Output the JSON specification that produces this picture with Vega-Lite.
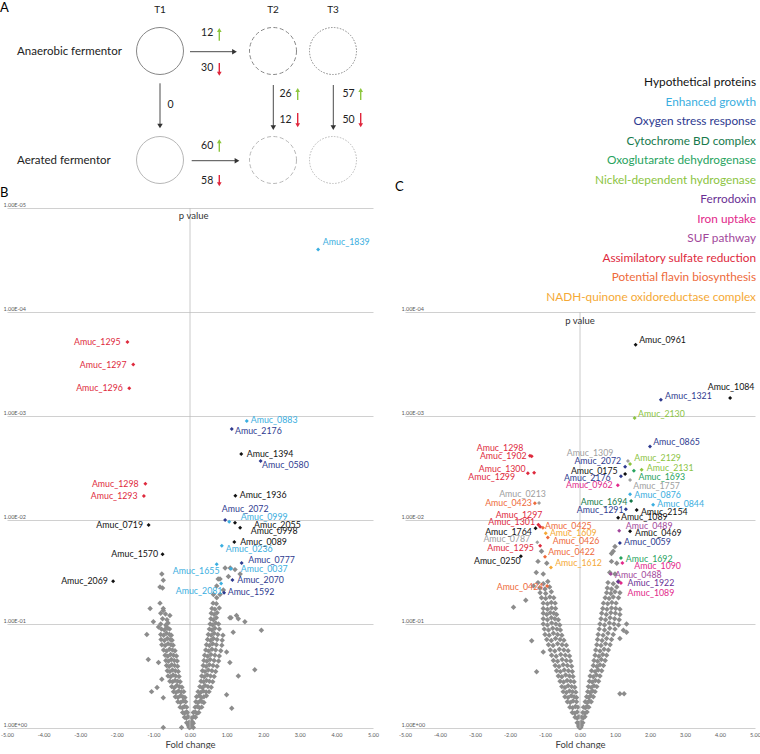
{
"$schema":"https://vega.github.io/schema/vega-lite/v6.json",
"background":"white",
"padding":0,
"config":{"view":{"stroke":null},"font":"Lato",
 "axisX":{"grid":false,"domain":false,"ticks":false,"tickSize":0,"labelFontSize":5.5,"labelColor":"#595959","labelPadding":4,"labelFlush":false,"labelOverlap":false,"labelSeparation":0,"labelBound":false,"titleFontSize":9.5,"titleFontWeight":"normal","titleColor":"#404040","titlePadding":2},
 "axisY":{"grid":true,"gridColor":"#c4c4c4","gridWidth":0.8,"domain":false,"ticks":false,"tickSize":0,"labelAlign":"left","labelPadding":4,"labelBaseline":"alphabetic","labelOffset":-2,"labelFlush":false,"labelOverlap":false,"labelFontSize":5.5,"labelColor":"#595959"}},
"datasets":{
"circles":[{"x":160,"y":51,"row":"Anaerobic","col":"T1"},{"x":273,"y":51,"row":"Anaerobic","col":"T2"},{"x":333,"y":51,"row":"Anaerobic","col":"T3"},{"x":160,"y":160,"row":"Aerated","col":"T1"},{"x":273,"y":160,"row":"Aerated","col":"T2"},{"x":333,"y":160,"row":"Aerated","col":"T3"}],
"bigArrows":[{"x":190,"y":51.7,"x2":234.5,"y2":51.7,"d":"right"},{"x":191.7,"y":160.7,"x2":237,"y2":160.7,"d":"right"},{"x":160,"y":83.3,"x2":160,"y2":126,"d":"down"},{"x":273.3,"y":85,"x2":273.3,"y2":127.7,"d":"down"},{"x":333.3,"y":85,"x2":333.3,"y2":127.7,"d":"down"}],
"counts":[{"n":"12","d":"up","x":219.3,"y":40.7,"y2":30,"ty":33},{"n":"30","d":"down","x":219.3,"y":63,"y2":73.7,"ty":68},{"n":"60","d":"up","x":219.3,"y":151.7,"y2":141.3,"ty":146},{"n":"58","d":"down","x":219.3,"y":175,"y2":184.3,"ty":181},{"n":"26","d":"up","x":297.7,"y":100,"y2":90,"ty":94},{"n":"12","d":"down","x":297.7,"y":113,"y2":125.3,"ty":120},{"n":"57","d":"up","x":360.7,"y":100,"y2":90,"ty":94},{"n":"50","d":"down","x":360.7,"y":113,"y2":125.3,"ty":120}],
"legendRows":[{"c":"Hypothetical proteins","x":756,"y":82},{"c":"Enhanced growth","x":756,"y":101.5},{"c":"Oxygen stress response","x":756,"y":121},{"c":"Cytochrome BD complex","x":756,"y":140.5},{"c":"Oxoglutarate dehydrogenase","x":756,"y":160},{"c":"Nickel-dependent hydrogenase","x":756,"y":179.5},{"c":"Ferrodoxin","x":756,"y":199},{"c":"Iron uptake","x":756,"y":218.5},{"c":"SUF pathway","x":756,"y":238},{"c":"Assimilatory sulfate reduction","x":756,"y":257.5},{"c":"Potential flavin biosynthesis","x":756,"y":277},{"c":"NADH-quinone oxidoreductase complex","x":756,"y":296.5}],
"labB":[
{"g":"Amuc_1839","c":"Enhanced growth","x":3.5,"p":2.5e-5,"lx":3.63,"lp":2.12e-5},
{"g":"Amuc_1295","c":"Assimilatory sulfate reduction","x":-1.71,"p":1.94e-4,"lx":-3.17,"lp":1.94e-4},
{"g":"Amuc_1297","c":"Assimilatory sulfate reduction","x":-1.55,"p":3.2e-4,"lx":-3.01,"lp":3.2e-4},
{"g":"Amuc_1296","c":"Assimilatory sulfate reduction","x":-1.66,"p":5.4e-4,"lx":-3.11,"lp":5.4e-4},
{"g":"Amuc_0883","c":"Enhanced growth","x":1.55,"p":1.12e-3,"lx":1.66,"lp":1.1e-3},
{"g":"Amuc_2176","c":"Oxygen stress response","x":1.14,"p":1.33e-3,"lx":1.23,"lp":1.39e-3},
{"g":"Amuc_1394","c":"Hypothetical proteins","x":1.4,"p":2.32e-3,"lx":1.55,"lp":2.3e-3},
{"g":"Amuc_0580","c":"Oxygen stress response","x":1.93,"p":2.71e-3,"lx":1.97,"lp":2.96e-3},
{"g":"Amuc_1298","c":"Assimilatory sulfate reduction","x":-1.22,"p":4.48e-3,"lx":-2.68,"lp":4.48e-3},
{"g":"Amuc_1293","c":"Assimilatory sulfate reduction","x":-1.26,"p":5.87e-3,"lx":-2.71,"lp":5.87e-3},
{"g":"Amuc_1936","c":"Hypothetical proteins","x":1.24,"p":5.83e-3,"lx":1.36,"lp":5.8e-3},
{"g":"Amuc_2072","c":"Oxygen stress response","x":0.96,"p":1.0e-2,"lx":0.87,"lp":7.83e-3},
{"g":"Amuc_0999","c":"Enhanced growth","x":1.07,"p":1.04e-2,"lx":1.39,"lp":9.29e-3},
{"g":"Amuc_2055","c":"Hypothetical proteins","x":1.23,"p":1.06e-2,"lx":1.75,"lp":1.12e-2},
{"g":"Amuc_0998","c":"Hypothetical proteins","x":1.37,"p":1.19e-2,"lx":1.66,"lp":1.28e-2},
{"g":"Amuc_0719","c":"Hypothetical proteins","x":-1.13,"p":1.12e-2,"lx":-2.56,"lp":1.12e-2},
{"g":"Amuc_0089","c":"Hypothetical proteins","x":1.21,"p":1.63e-2,"lx":1.37,"lp":1.64e-2},
{"g":"Amuc_0236","c":"Enhanced growth","x":0.87,"p":1.77e-2,"lx":0.98,"lp":1.91e-2},
{"g":"Amuc_1570","c":"Hypothetical proteins","x":-0.75,"p":2.14e-2,"lx":-2.15,"lp":2.14e-2},
{"g":"Amuc_0777","c":"Oxygen stress response","x":1.41,"p":2.59e-2,"lx":1.59,"lp":2.45e-2},
{"g":"Amuc_1655","c":"Enhanced growth","x":0.73,"p":2.67e-2,"lx":-0.47,"lp":3.09e-2},
{"g":"Amuc_0037","c":"Enhanced growth","x":1.12,"p":2.94e-2,"lx":1.39,"lp":2.98e-2},
{"g":"Amuc_2069","c":"Hypothetical proteins","x":-2.1,"p":3.89e-2,"lx":-3.52,"lp":3.89e-2},
{"g":"Amuc_2070","c":"Oxygen stress response","x":1.16,"p":3.78e-2,"lx":1.29,"lp":3.78e-2},
{"g":"Amuc_2081","c":"Enhanced growth","x":0.85,"p":4.07e-2,"lx":-0.39,"lp":4.79e-2},
{"g":"Amuc_1592","c":"Oxygen stress response","x":0.93,"p":5.01e-2,"lx":1.03,"lp":4.9e-2}],
"labC":[
{"g":"Amuc_0961","c":"Hypothetical proteins","x":1.59,"p":2.06e-4,"lx":1.69,"lp":1.85e-4},
{"g":"Amuc_1084","c":"Hypothetical proteins","x":4.29,"p":6.72e-4,"lx":3.65,"lp":5.26e-4},
{"g":"Amuc_1321","c":"Oxygen stress response","x":2.31,"p":6.97e-4,"lx":2.43,"lp":6.38e-4},
{"g":"Amuc_2130","c":"Nickel-dependent hydrogenase","x":1.56,"p":1.045e-3,"lx":1.66,"lp":9.57e-4},
{"g":"Amuc_0865","c":"Oxygen stress response","x":2.0,"p":1.97e-3,"lx":2.09,"lp":1.79e-3},
{"g":"Amuc_1298","c":"Assimilatory sulfate reduction","x":-1.43,"p":2.41e-3,"lx":-2.95,"lp":2.05e-3},
{"g":"Amuc_1902","c":"Assimilatory sulfate reduction","x":-1.38,"p":2.44e-3,"lx":-2.86,"lp":2.41e-3},
{"g":"Amuc_1300","c":"Assimilatory sulfate reduction","x":-1.31,"p":3.51e-3,"lx":-2.89,"lp":3.24e-3},
{"g":"Amuc_1299","c":"Assimilatory sulfate reduction","x":-1.49,"p":3.56e-3,"lx":-3.19,"lp":3.89e-3},
{"g":"Amuc_1309","c":"Unassigned","x":1.37,"p":2.71e-3,"lx":-0.38,"lp":2.29e-3},
{"g":"Amuc_2129","c":"Nickel-dependent hydrogenase","x":1.43,"p":2.9e-3,"lx":1.55,"lp":2.51e-3},
{"g":"Amuc_2072","c":"Oxygen stress response","x":1.29,"p":3.07e-3,"lx":-0.16,"lp":2.71e-3},
{"g":"Amuc_1693","c":"Oxoglutarate dehydrogenase","x":1.54,"p":3.36e-3,"lx":1.67,"lp":3.84e-3},
{"g":"Amuc_2131","c":"Nickel-dependent hydrogenase","x":1.76,"p":3.28e-3,"lx":1.91,"lp":3.16e-3},
{"g":"Amuc_0175","c":"Hypothetical proteins","x":1.29,"p":3.62e-3,"lx":-0.26,"lp":3.36e-3},
{"g":"Amuc_2176","c":"Oxygen stress response","x":1.17,"p":3.8e-3,"lx":-0.46,"lp":3.92e-3},
{"g":"Amuc_1757","c":"Unassigned","x":1.43,"p":4.12e-3,"lx":1.52,"lp":4.68e-3},
{"g":"Amuc_0962","c":"Iron uptake","x":1.08,"p":4.63e-3,"lx":-0.4,"lp":4.6e-3},
{"g":"Amuc_0876","c":"Enhanced growth","x":1.43,"p":5.66e-3,"lx":1.55,"lp":5.71e-3},
{"g":"Amuc_1694","c":"Cytochrome BD complex","x":1.46,"p":6.56e-3,"lx":0.02,"lp":6.66e-3},
{"g":"Amuc_0844","c":"Enhanced growth","x":2.09,"p":7.12e-3,"lx":2.21,"lp":7.06e-3},
{"g":"Amuc_1291","c":"Oxygen stress response","x":1.31,"p":7.89e-3,"lx":-0.09,"lp":7.96e-3},
{"g":"Amuc_2154","c":"Hypothetical proteins","x":1.62,"p":8.02e-3,"lx":1.74,"lp":8.32e-3},
{"g":"Amuc_1089","c":"Hypothetical proteins","x":1.09,"p":9.5e-3,"lx":1.17,"lp":9.42e-3},
{"g":"Amuc_0489","c":"SUF pathway","x":1.12,"p":1.27e-2,"lx":1.31,"lp":1.15e-2},
{"g":"Amuc_0469","c":"Hypothetical proteins","x":1.43,"p":1.28e-2,"lx":1.57,"lp":1.33e-2},
{"g":"Amuc_0059","c":"Oxygen stress response","x":1.14,"p":1.66e-2,"lx":1.26,"lp":1.62e-2},
{"g":"Amuc_1692","c":"Oxoglutarate dehydrogenase","x":1.17,"p":2.32e-2,"lx":1.31,"lp":2.37e-2},
{"g":"Amuc_1090","c":"Iron uptake","x":1.21,"p":2.59e-2,"lx":1.55,"lp":2.79e-2},
{"g":"Amuc_0488","c":"SUF pathway","x":0.88,"p":3.3e-2,"lx":1.0,"lp":3.36e-2},
{"g":"Amuc_1922","c":"Ferrodoxin","x":1.09,"p":3.92e-2,"lx":1.36,"lp":4.06e-2},
{"g":"Amuc_1089","c":"Iron uptake","x":1.17,"p":4.04e-2,"lx":1.36,"lp":5.0e-2},
{"g":"Amuc_0213","c":"Unassigned","x":-1.17,"p":6.87e-3,"lx":-2.31,"lp":5.62e-3},
{"g":"Amuc_0423","c":"Potential flavin biosynthesis","x":-1.29,"p":6.9e-3,"lx":-2.71,"lp":6.9e-3},
{"g":"Amuc_1297","c":"Assimilatory sulfate reduction","x":-1.19,"p":1.11e-2,"lx":-2.41,"lp":8.9e-3},
{"g":"Amuc_1301","c":"Assimilatory sulfate reduction","x":-1.14,"p":1.16e-2,"lx":-2.62,"lp":1.05e-2},
{"g":"Amuc_1764","c":"Hypothetical proteins","x":-1.27,"p":1.2e-2,"lx":-2.71,"lp":1.29e-2},
{"g":"Amuc_0425","c":"Potential flavin biosynthesis","x":-1.06,"p":1.19e-2,"lx":-1.0,"lp":1.15e-2},
{"g":"Amuc_1609","c":"NADH-quinone oxidoreductase complex","x":-0.98,"p":1.34e-2,"lx":-0.86,"lp":1.33e-2},
{"g":"Amuc_0426","c":"Potential flavin biosynthesis","x":-0.92,"p":1.47e-2,"lx":-0.78,"lp":1.6e-2},
{"g":"Amuc_0787","c":"Unassigned","x":-1.22,"p":1.64e-2,"lx":-2.76,"lp":1.52e-2},
{"g":"Amuc_1295","c":"Assimilatory sulfate reduction","x":-1.14,"p":1.77e-2,"lx":-2.65,"lp":1.86e-2},
{"g":"Amuc_0422","c":"Potential flavin biosynthesis","x":-1.0,"p":2.25e-2,"lx":-0.91,"lp":2.02e-2},
{"g":"Amuc_0250","c":"Hypothetical proteins","x":-1.69,"p":2.23e-2,"lx":-3.03,"lp":2.49e-2},
{"g":"Amuc_1612","c":"NADH-quinone oxidoreductase complex","x":-0.83,"p":2.86e-2,"lx":-0.71,"lp":2.6e-2},
{"g":"Amuc_0424","c":"Potential flavin biosynthesis","x":-0.94,"p":4.32e-2,"lx":-2.38,"lp":4.38e-2}],
"grayB":[
{"x":-0.73,"p":0.99},{"x":-0.23,"p":0.99},{"x":-0.02,"p":0.99},{"x":0.02,"p":0.98},{"x":0.09,"p":0.99},
{"x":-0.04,"p":0.95},{"x":0,"p":0.96},{"x":0.03,"p":0.95},
{"x":-0.09,"p":0.89},{"x":-0.05,"p":0.9},{"x":-0.02,"p":0.88},{"x":0.03,"p":0.89},{"x":0.06,"p":0.87},{"x":0.09,"p":0.9},
{"x":-0.15,"p":0.79},{"x":-0.1,"p":0.8},{"x":-0.05,"p":0.78},{"x":0.05,"p":0.8},{"x":0.1,"p":0.78},{"x":0.15,"p":0.79},
{"x":-0.2,"p":0.71},{"x":-0.15,"p":0.72},{"x":-0.1,"p":0.7},{"x":-0.07,"p":0.71},{"x":0.09,"p":0.71},{"x":0.14,"p":0.7},{"x":0.19,"p":0.72},{"x":0.24,"p":0.71},
{"x":-0.27,"p":0.63},{"x":-0.21,"p":0.64},{"x":-0.15,"p":0.62},{"x":-0.09,"p":0.63},{"x":0.14,"p":0.63},{"x":0.2,"p":0.62},{"x":0.26,"p":0.64},{"x":0.32,"p":0.63},
{"x":-0.33,"p":0.56},{"x":-0.26,"p":0.57},{"x":-0.19,"p":0.55},{"x":-0.12,"p":0.56},{"x":0.16,"p":0.56},{"x":0.22,"p":0.57},{"x":0.28,"p":0.55},{"x":0.33,"p":0.56},{"x":0.38,"p":0.57},
{"x":-0.4,"p":0.5},{"x":-0.33,"p":0.51},{"x":-0.26,"p":0.49},{"x":-0.2,"p":0.5},{"x":-0.14,"p":0.51},{"x":0.18,"p":0.5},{"x":0.25,"p":0.49},{"x":0.31,"p":0.51},{"x":0.38,"p":0.5},{"x":0.45,"p":0.49},
{"x":-0.45,"p":0.447},{"x":-0.38,"p":0.455},{"x":-0.31,"p":0.44},{"x":-0.24,"p":0.45},{"x":-0.17,"p":0.447},{"x":0.22,"p":0.447},{"x":0.29,"p":0.455},{"x":0.36,"p":0.44},{"x":0.44,"p":0.45},{"x":0.52,"p":0.447},
{"x":-0.5,"p":0.4},{"x":-0.43,"p":0.41},{"x":-0.36,"p":0.39},{"x":-0.29,"p":0.4},{"x":-0.22,"p":0.405},{"x":0.27,"p":0.4},{"x":0.34,"p":0.41},{"x":0.41,"p":0.39},{"x":0.49,"p":0.4},{"x":0.58,"p":0.405},
{"x":-0.55,"p":0.355},{"x":-0.48,"p":0.36},{"x":-0.41,"p":0.35},{"x":-0.34,"p":0.355},{"x":-0.27,"p":0.36},{"x":0.3,"p":0.355},{"x":0.37,"p":0.36},{"x":0.45,"p":0.35},{"x":0.53,"p":0.355},{"x":0.62,"p":0.36},
{"x":-0.6,"p":0.316},{"x":-0.53,"p":0.322},{"x":-0.46,"p":0.31},{"x":-0.39,"p":0.316},{"x":-0.3,"p":0.32},{"x":0.32,"p":0.316},{"x":0.39,"p":0.322},{"x":0.47,"p":0.31},{"x":0.56,"p":0.316},{"x":0.66,"p":0.32},
{"x":-0.62,"p":0.282},{"x":-0.55,"p":0.287},{"x":-0.48,"p":0.277},{"x":-0.4,"p":0.282},{"x":-0.32,"p":0.286},{"x":0.34,"p":0.282},{"x":0.41,"p":0.287},{"x":0.5,"p":0.277},{"x":0.6,"p":0.282},{"x":0.7,"p":0.286},
{"x":-0.64,"p":0.251},{"x":-0.57,"p":0.256},{"x":-0.5,"p":0.246},{"x":-0.42,"p":0.251},{"x":-0.34,"p":0.255},{"x":0.36,"p":0.251},{"x":0.44,"p":0.256},{"x":0.53,"p":0.246},{"x":0.63,"p":0.251},{"x":0.74,"p":0.255},
{"x":-0.66,"p":0.224},{"x":-0.59,"p":0.228},{"x":-0.51,"p":0.22},{"x":-0.43,"p":0.224},{"x":-0.35,"p":0.227},{"x":0.38,"p":0.224},{"x":0.46,"p":0.228},{"x":0.55,"p":0.22},{"x":0.66,"p":0.224},{"x":0.78,"p":0.227},
{"x":-0.68,"p":0.2},{"x":-0.61,"p":0.204},{"x":-0.53,"p":0.196},{"x":-0.45,"p":0.2},{"x":-0.37,"p":0.203},{"x":0.4,"p":0.2},{"x":0.48,"p":0.204},{"x":0.57,"p":0.196},{"x":0.68,"p":0.2},{"x":0.8,"p":0.203},
{"x":-0.72,"p":0.178},{"x":-0.64,"p":0.182},{"x":-0.56,"p":0.175},{"x":-0.48,"p":0.178},{"x":-0.41,"p":0.181},{"x":0.43,"p":0.178},{"x":0.51,"p":0.182},{"x":0.6,"p":0.175},{"x":0.7,"p":0.178},{"x":0.84,"p":0.181},
{"x":-0.77,"p":0.158},{"x":-0.68,"p":0.161},{"x":-0.6,"p":0.155},{"x":-0.52,"p":0.158},{"x":-0.46,"p":0.16},{"x":0.45,"p":0.158},{"x":0.53,"p":0.161},{"x":0.62,"p":0.155},{"x":0.72,"p":0.158},{"x":0.87,"p":0.16},
{"x":-0.79,"p":0.141},{"x":-0.7,"p":0.144},{"x":-0.62,"p":0.138},{"x":-0.54,"p":0.141},{"x":-0.49,"p":0.143},{"x":0.48,"p":0.141},{"x":0.56,"p":0.144},{"x":0.64,"p":0.138},{"x":0.74,"p":0.141},{"x":0.88,"p":0.143},
{"x":-0.8,"p":0.126},{"x":-0.72,"p":0.128},{"x":-0.64,"p":0.123},{"x":-0.56,"p":0.126},{"x":-0.51,"p":0.128},{"x":0.5,"p":0.126},{"x":0.58,"p":0.128},{"x":0.66,"p":0.123},{"x":0.76,"p":0.126},{"x":0.9,"p":0.128},
{"x":-0.78,"p":0.112},{"x":-0.7,"p":0.114},{"x":-0.62,"p":0.11},{"x":-0.56,"p":0.112},{"x":0.53,"p":0.112},{"x":0.6,"p":0.114},{"x":0.68,"p":0.11},{"x":0.8,"p":0.112},
{"x":-0.8,"p":0.1},{"x":-0.66,"p":0.102},{"x":-0.6,"p":0.098},{"x":0.55,"p":0.1},{"x":0.62,"p":0.102},{"x":0.7,"p":0.098},{"x":0.78,"p":0.1},
{"x":-0.75,"p":0.089},{"x":-0.63,"p":0.091},{"x":0.57,"p":0.089},{"x":0.64,"p":0.091},{"x":0.72,"p":0.087},
{"x":-0.8,"p":0.079},{"x":-0.67,"p":0.08},{"x":0.58,"p":0.079},{"x":0.66,"p":0.081},{"x":0.74,"p":0.078},
{"x":-0.73,"p":0.071},{"x":0.6,"p":0.071},{"x":0.68,"p":0.072},{"x":0.8,"p":0.07},
{"x":-0.82,"p":0.063},{"x":0.63,"p":0.063},{"x":0.72,"p":0.064},
{"x":-1.18,"p":0.126},{"x":-1.14,"p":0.219},{"x":-1.05,"p":0.447},{"x":-0.9,"p":0.407},{"x":-0.77,"p":0.339},{"x":-1.0,"p":0.095},{"x":-1.09,"p":0.071},{"x":-0.86,"p":0.234},{"x":-0.73,"p":0.513},
{"x":1.95,"p":0.115},{"x":1.77,"p":0.275},{"x":1.32,"p":0.316},{"x":1.14,"p":0.646},{"x":1.27,"p":0.083},{"x":1.5,"p":0.095},{"x":1.09,"p":0.087},{"x":1.0,"p":0.479},{"x":1.18,"p":0.12},{"x":1.09,"p":0.234},{"x":1.0,"p":0.186},
{"x":-0.77,"p":0.033},{"x":-0.73,"p":0.038},{"x":-0.82,"p":0.044},{"x":-0.75,"p":0.045},{"x":-0.73,"p":0.074},{"x":-0.55,"p":0.083},{"x":-0.86,"p":0.107},{"x":-0.64,"p":0.107},
{"x":0.64,"p":0.052},{"x":0.73,"p":0.043},{"x":0.82,"p":0.037},{"x":0.96,"p":0.029},{"x":1.1,"p":0.029},{"x":1.23,"p":0.03},{"x":1.37,"p":0.033},{"x":1.05,"p":0.035},{"x":1.32,"p":0.089},{"x":1.12,"p":0.087},{"x":0.73,"p":0.056},{"x":0.82,"p":0.052},{"x":0.91,"p":0.047},{"x":0.77,"p":0.037}],
"grayC":[
{"x":-0.02,"p":0.99},{"x":0.02,"p":0.99},
{"x":-0.04,"p":0.955},{"x":0,"p":0.96},{"x":0.04,"p":0.95},
{"x":-0.08,"p":0.89},{"x":-0.04,"p":0.9},{"x":0.03,"p":0.88},{"x":0.08,"p":0.89},
{"x":-0.14,"p":0.79},{"x":-0.08,"p":0.8},{"x":-0.03,"p":0.78},{"x":0.05,"p":0.79},{"x":0.09,"p":0.8},{"x":0.14,"p":0.78},
{"x":-0.22,"p":0.71},{"x":-0.15,"p":0.72},{"x":-0.08,"p":0.7},{"x":0.08,"p":0.71},{"x":0.14,"p":0.72},{"x":0.2,"p":0.7},
{"x":-0.29,"p":0.63},{"x":-0.21,"p":0.64},{"x":-0.13,"p":0.62},{"x":-0.06,"p":0.63},{"x":0.1,"p":0.63},{"x":0.15,"p":0.64},{"x":0.2,"p":0.62},{"x":0.25,"p":0.63},
{"x":-0.36,"p":0.56},{"x":-0.28,"p":0.57},{"x":-0.2,"p":0.55},{"x":-0.1,"p":0.56},{"x":0.15,"p":0.56},{"x":0.21,"p":0.57},{"x":0.27,"p":0.55},{"x":0.32,"p":0.56},
{"x":-0.43,"p":0.5},{"x":-0.34,"p":0.51},{"x":-0.25,"p":0.49},{"x":-0.17,"p":0.5},{"x":-0.1,"p":0.51},{"x":0.19,"p":0.5},{"x":0.25,"p":0.51},{"x":0.31,"p":0.49},{"x":0.38,"p":0.5},
{"x":-0.48,"p":0.447},{"x":-0.39,"p":0.455},{"x":-0.3,"p":0.44},{"x":-0.21,"p":0.447},{"x":-0.12,"p":0.452},{"x":0.22,"p":0.447},{"x":0.29,"p":0.455},{"x":0.36,"p":0.44},{"x":0.43,"p":0.447},
{"x":-0.52,"p":0.4},{"x":-0.43,"p":0.407},{"x":-0.34,"p":0.393},{"x":-0.24,"p":0.4},{"x":-0.15,"p":0.405},{"x":0.24,"p":0.4},{"x":0.32,"p":0.407},{"x":0.4,"p":0.393},{"x":0.48,"p":0.4},
{"x":-0.57,"p":0.355},{"x":-0.47,"p":0.361},{"x":-0.37,"p":0.349},{"x":-0.27,"p":0.355},{"x":-0.17,"p":0.36},{"x":0.27,"p":0.355},{"x":0.35,"p":0.361},{"x":0.44,"p":0.349},{"x":0.53,"p":0.355},
{"x":-0.62,"p":0.316},{"x":-0.52,"p":0.322},{"x":-0.41,"p":0.31},{"x":-0.3,"p":0.316},{"x":-0.2,"p":0.32},{"x":0.29,"p":0.316},{"x":0.38,"p":0.322},{"x":0.47,"p":0.31},{"x":0.57,"p":0.316},
{"x":-0.67,"p":0.282},{"x":-0.56,"p":0.287},{"x":-0.45,"p":0.277},{"x":-0.33,"p":0.282},{"x":-0.22,"p":0.286},{"x":0.33,"p":0.282},{"x":0.43,"p":0.287},{"x":0.52,"p":0.277},{"x":0.62,"p":0.282},
{"x":-0.71,"p":0.251},{"x":-0.6,"p":0.256},{"x":-0.48,"p":0.246},{"x":-0.36,"p":0.251},{"x":-0.24,"p":0.255},{"x":0.38,"p":0.251},{"x":0.48,"p":0.256},{"x":0.57,"p":0.246},{"x":0.67,"p":0.251},
{"x":-0.76,"p":0.224},{"x":-0.64,"p":0.228},{"x":-0.51,"p":0.22},{"x":-0.39,"p":0.224},{"x":-0.27,"p":0.227},{"x":0.4,"p":0.224},{"x":0.5,"p":0.228},{"x":0.61,"p":0.22},{"x":0.72,"p":0.224},
{"x":-0.81,"p":0.2},{"x":-0.68,"p":0.204},{"x":-0.55,"p":0.196},{"x":-0.42,"p":0.2},{"x":-0.3,"p":0.203},{"x":0.43,"p":0.2},{"x":0.54,"p":0.204},{"x":0.65,"p":0.196},{"x":0.76,"p":0.2},
{"x":-0.85,"p":0.178},{"x":-0.72,"p":0.182},{"x":-0.59,"p":0.175},{"x":-0.46,"p":0.178},{"x":-0.34,"p":0.181},{"x":0.45,"p":0.178},{"x":0.57,"p":0.182},{"x":0.69,"p":0.175},{"x":0.81,"p":0.178},
{"x":-0.9,"p":0.158},{"x":-0.77,"p":0.161},{"x":-0.64,"p":0.155},{"x":-0.51,"p":0.158},{"x":-0.39,"p":0.16},{"x":0.48,"p":0.158},{"x":0.6,"p":0.161},{"x":0.73,"p":0.155},{"x":0.86,"p":0.158},
{"x":-0.95,"p":0.141},{"x":-0.82,"p":0.144},{"x":-0.7,"p":0.138},{"x":-0.57,"p":0.141},{"x":-0.46,"p":0.143},{"x":0.5,"p":0.141},{"x":0.63,"p":0.144},{"x":0.76,"p":0.138},{"x":0.9,"p":0.141},
{"x":-1.0,"p":0.126},{"x":-0.88,"p":0.128},{"x":-0.76,"p":0.123},{"x":-0.64,"p":0.126},{"x":-0.52,"p":0.128},{"x":0.52,"p":0.126},{"x":0.66,"p":0.128},{"x":0.8,"p":0.123},{"x":0.95,"p":0.126},
{"x":-1.02,"p":0.112},{"x":-0.9,"p":0.114},{"x":-0.78,"p":0.11},{"x":-0.66,"p":0.112},{"x":-0.56,"p":0.114},{"x":0.55,"p":0.112},{"x":0.7,"p":0.114},{"x":0.85,"p":0.11},{"x":1.0,"p":0.112},
{"x":-1.05,"p":0.1},{"x":-0.93,"p":0.102},{"x":-0.81,"p":0.098},{"x":-0.69,"p":0.1},{"x":-0.58,"p":0.102},{"x":0.57,"p":0.1},{"x":0.7,"p":0.102},{"x":0.84,"p":0.098},{"x":0.97,"p":0.1},{"x":1.1,"p":0.102},
{"x":-1.05,"p":0.089},{"x":-0.93,"p":0.091},{"x":-0.82,"p":0.087},{"x":-0.72,"p":0.089},{"x":-0.62,"p":0.091},{"x":0.6,"p":0.089},{"x":0.73,"p":0.091},{"x":0.86,"p":0.087},{"x":0.99,"p":0.089},{"x":1.12,"p":0.091},
{"x":-1.05,"p":0.079},{"x":-0.95,"p":0.081},{"x":-0.85,"p":0.078},{"x":-0.75,"p":0.079},{"x":-0.67,"p":0.081},{"x":0.62,"p":0.079},{"x":0.75,"p":0.081},{"x":0.88,"p":0.078},{"x":1.01,"p":0.079},{"x":1.14,"p":0.081},
{"x":-1.05,"p":0.071},{"x":-0.93,"p":0.072},{"x":-0.81,"p":0.07},{"x":-0.7,"p":0.071},{"x":0.65,"p":0.071},{"x":0.77,"p":0.072},{"x":0.9,"p":0.07},{"x":1.02,"p":0.071},{"x":1.14,"p":0.072},
{"x":-1.05,"p":0.063},{"x":-0.93,"p":0.064},{"x":-0.82,"p":0.062},{"x":-0.71,"p":0.063},{"x":0.67,"p":0.063},{"x":0.79,"p":0.064},{"x":0.91,"p":0.062},{"x":1.03,"p":0.063},
{"x":-1.1,"p":0.056},{"x":-0.98,"p":0.057},{"x":-0.86,"p":0.055},{"x":-0.75,"p":0.056},{"x":0.72,"p":0.056},{"x":0.83,"p":0.057},{"x":0.95,"p":0.055},{"x":1.1,"p":0.056},
{"x":-1.14,"p":0.05},{"x":-0.98,"p":0.051},{"x":-0.82,"p":0.049},{"x":0.76,"p":0.05},{"x":0.88,"p":0.051},{"x":1.0,"p":0.049},{"x":1.14,"p":0.05},
{"x":-1.15,"p":0.045},{"x":-1.0,"p":0.046},{"x":-0.87,"p":0.044},{"x":0.78,"p":0.045},{"x":0.9,"p":0.046},{"x":1.05,"p":0.044},
{"x":-1.2,"p":0.04},{"x":-1.05,"p":0.041},{"x":-0.92,"p":0.039},{"x":0.8,"p":0.04},{"x":0.95,"p":0.041},{"x":1.1,"p":0.039},
{"x":-1.25,"p":0.032},{"x":-1.05,"p":0.033},{"x":0.85,"p":0.032},{"x":1.0,"p":0.033},
{"x":-1.2,"p":0.025},{"x":-0.95,"p":0.026},{"x":0.9,"p":0.025},{"x":1.05,"p":0.026},
{"x":-1.1,"p":0.02},{"x":0.95,"p":0.02},
{"x":-1.9,"p":0.069},{"x":-1.55,"p":0.059},{"x":-1.33,"p":0.043},{"x":-1.38,"p":0.145},{"x":-1.05,"p":0.186},{"x":-1.24,"p":0.288},{"x":1.14,"p":0.468},{"x":1.26,"p":0.468},{"x":1.33,"p":0.1},{"x":1.33,"p":0.12},{"x":1.24,"p":0.115},{"x":1.14,"p":0.138},{"x":0.9,"p":0.021},{"x":1.0,"p":0.018}]
},
"vconcat":[
  {"width":748,"height":208,
   "encoding":{"x":{"field":"x","type":"quantitative","scale":{"domain":[7,755],"nice":false,"zero":false},"axis":null},
               "y":{"field":"y","type":"quantitative","scale":{"domain":[0,208],"nice":false,"zero":false,"reverse":true},"axis":null}},
   "layer":[
    {"data":{"values":[{"t":"A","x":0,"y":8},{"t":"B","x":0,"y":193},{"t":"C","x":395,"y":187}]},"mark":{"type":"text","align":"left","baseline":"middle","fontSize":13,"color":"#000"},"encoding":{"text":{"field":"t"}}},
    {"data":{"values":[{"t":"T1","x":160,"y":10},{"t":"T2","x":273,"y":10},{"t":"T3","x":333,"y":10}]},"mark":{"type":"text","align":"center","baseline":"middle","fontSize":10,"color":"#222"},"encoding":{"text":{"field":"t"}}},
    {"data":{"values":[{"t":"Anaerobic fermentor","x":17,"y":51.5},{"t":"Aerated fermentor","x":17,"y":160.5}]},"mark":{"type":"text","align":"left","baseline":"middle","fontSize":11.5,"color":"#222"},"encoding":{"text":{"field":"t"}}},
    {"data":{"name":"circles"},"transform":[{"filter":"datum.col == 'T1'"}],"mark":{"type":"point","shape":"circle","size":2209,"strokeWidth":1,"filled":false},"encoding":{"stroke":{"field":"row","type":"nominal","scale":{"domain":["Anaerobic","Aerated"],"range":["#555555","#9a9a9a"]},"legend":null}}},
    {"data":{"name":"circles"},"transform":[{"filter":"datum.col == 'T2'"}],"mark":{"type":"point","shape":"circle","size":2209,"strokeWidth":1,"filled":false,"strokeDash":[4,2.5]},"encoding":{"stroke":{"field":"row","type":"nominal","scale":{"domain":["Anaerobic","Aerated"],"range":["#555555","#9a9a9a"]},"legend":null}}},
    {"data":{"name":"circles"},"transform":[{"filter":"datum.col == 'T3'"}],"mark":{"type":"point","shape":"circle","size":2209,"strokeWidth":1,"filled":false,"strokeDash":[1.5,1.5]},"encoding":{"stroke":{"field":"row","type":"nominal","scale":{"domain":["Anaerobic","Aerated"],"range":["#555555","#9a9a9a"]},"legend":null}}},
    {"data":{"name":"bigArrows"},"mark":{"type":"rule","color":"#4a4a4a","strokeWidth":1},"encoding":{"x2":{"field":"x2"},"y2":{"field":"y2"}}},
    {"data":{"name":"bigArrows"},"mark":{"type":"point","filled":true,"size":30,"color":"#333","opacity":1},"encoding":{"x":{"field":"x2","type":"quantitative"},"y":{"field":"y2","type":"quantitative"},"shape":{"field":"d","type":"nominal","scale":{"domain":["right","down","up"],"range":["triangle-right","triangle-down","triangle-up"]},"legend":null}}},
    {"data":{"name":"counts"},"transform":[{"filter":"datum.d == 'up'"}],"mark":{"type":"rule","color":"#8dc63f","strokeWidth":1.4},"encoding":{"y2":{"field":"y2"}}},
    {"data":{"name":"counts"},"transform":[{"filter":"datum.d == 'down'"}],"mark":{"type":"rule","color":"#e0263c","strokeWidth":1.4},"encoding":{"y2":{"field":"y2"}}},
    {"data":{"name":"counts"},"transform":[{"filter":"datum.d == 'up'"}],"mark":{"type":"point","shape":"triangle-up","filled":true,"size":22,"color":"#8dc63f","opacity":1},"encoding":{"y":{"field":"y2","type":"quantitative"}}},
    {"data":{"name":"counts"},"transform":[{"filter":"datum.d == 'down'"}],"mark":{"type":"point","shape":"triangle-down","filled":true,"size":22,"color":"#e0263c","opacity":1},"encoding":{"y":{"field":"y2","type":"quantitative"}}},
    {"data":{"name":"counts"},"mark":{"type":"text","align":"right","baseline":"middle","fontSize":10.5,"dx":-6,"color":"#222"},"encoding":{"y":{"field":"ty","type":"quantitative"},"text":{"field":"n"}}},
    {"data":{"values":[{"t":"0","x":170.5,"y":105}]},"mark":{"type":"text","align":"center","baseline":"middle","fontSize":10.5,"color":"#222"},"encoding":{"text":{"field":"t"}}},
    {"data":{"name":"legendRows"},"mark":{"type":"text","align":"right","baseline":"middle","fontSize":11.8},
     "encoding":{"text":{"field":"c"},
      "color":{"field":"c","type":"nominal","scale":{"domain":["Hypothetical proteins","Enhanced growth","Oxygen stress response","Cytochrome BD complex","Oxoglutarate dehydrogenase","Nickel-dependent hydrogenase","Ferrodoxin","Iron uptake","SUF pathway","Assimilatory sulfate reduction","Potential flavin biosynthesis","NADH-quinone oxidoreductase complex","Unassigned"],"range":["#111111","#3aaee0","#2e3a8f","#177a4c","#27a35e","#8cc43f","#6a2f94","#e2288a","#a2479b","#de2a3d","#ee6a3b","#f5a935","#a0a0a0"]},"legend":null}}}
   ]},
  {"hconcat":[
   {"width":366,"height":520,
    "layer":[
     {"data":{"name":"grayB"},"mark":{"type":"point","shape":"diamond","filled":true,"size":30,"color":"#8c8c8c","opacity":1},
      "encoding":{"x":{"field":"x","type":"quantitative","scale":{"domain":[-5,5],"nice":false,"zero":false},"title":"Fold change","axis":{"values":[-5,-4,-3,-2,-1,0,1,2,3,4,5],"labelOverlap":false,"labelSeparation":0,"labelExpr":"replace(format(datum.value, '.2f'), '\u2212', '-')"}},
                  "y":{"field":"p","type":"quantitative","scale":{"type":"log","domain":[0.00001,1],"reverse":true,"nice":false},"title":null,"axis":{"values":[0.00001,0.0001,0.001,0.01,0.1,1],"labelOverlap":false,"labelExpr":"datum.value >= 1 ? '1.00E+00' : '1.00E-0' + round(-log(datum.value)/LN10)"}}}},
     {"data":{"values":[{"x":0,"p":0.00001,"p2":1}]},"mark":{"type":"rule","color":"#bdbdbd","strokeWidth":0.8},
      "encoding":{"x":{"field":"x","type":"quantitative","title":"Fold change","axis":{"values":[-5,-4,-3,-2,-1,0,1,2,3,4,5],"labelOverlap":false,"labelSeparation":0,"labelExpr":"replace(format(datum.value, '.2f'), '\u2212', '-')"}},
                  "y":{"field":"p","type":"quantitative","title":null,"axis":{"values":[0.00001,0.0001,0.001,0.01,0.1,1],"labelOverlap":false,"labelExpr":"datum.value >= 1 ? '1.00E+00' : '1.00E-0' + round(-log(datum.value)/LN10)"}},"y2":{"field":"p2"}}},
     {"data":{"name":"labB"},"mark":{"type":"point","shape":"diamond","filled":true,"size":16,"opacity":1},
      "encoding":{"x":{"field":"x","type":"quantitative","title":"Fold change","axis":{"values":[-5,-4,-3,-2,-1,0,1,2,3,4,5],"labelOverlap":false,"labelSeparation":0,"labelExpr":"replace(format(datum.value, '.2f'), '\u2212', '-')"}},
                  "y":{"field":"p","type":"quantitative","title":null,"axis":{"values":[0.00001,0.0001,0.001,0.01,0.1,1],"labelOverlap":false,"labelExpr":"datum.value >= 1 ? '1.00E+00' : '1.00E-0' + round(-log(datum.value)/LN10)"}},
       "color":{"field":"c","type":"nominal","scale":{"domain":["Hypothetical proteins","Enhanced growth","Oxygen stress response","Cytochrome BD complex","Oxoglutarate dehydrogenase","Nickel-dependent hydrogenase","Ferrodoxin","Iron uptake","SUF pathway","Assimilatory sulfate reduction","Potential flavin biosynthesis","NADH-quinone oxidoreductase complex","Unassigned"],"range":["#111111","#3aaee0","#2e3a8f","#177a4c","#27a35e","#8cc43f","#6a2f94","#e2288a","#a2479b","#de2a3d","#ee6a3b","#f5a935","#a0a0a0"]},"legend":null}}},
     {"data":{"name":"labB"},"mark":{"type":"text","align":"left","baseline":"middle","fontSize":8.8},
      "encoding":{"x":{"field":"lx","type":"quantitative","title":"Fold change","axis":{"values":[-5,-4,-3,-2,-1,0,1,2,3,4,5],"labelOverlap":false,"labelSeparation":0,"labelExpr":"replace(format(datum.value, '.2f'), '\u2212', '-')"}},
                  "y":{"field":"lp","type":"quantitative","title":null,"axis":{"values":[0.00001,0.0001,0.001,0.01,0.1,1],"labelOverlap":false,"labelExpr":"datum.value >= 1 ? '1.00E+00' : '1.00E-0' + round(-log(datum.value)/LN10)"}},"text":{"field":"g"},
       "color":{"field":"c","type":"nominal","scale":{"domain":["Hypothetical proteins","Enhanced growth","Oxygen stress response","Cytochrome BD complex","Oxoglutarate dehydrogenase","Nickel-dependent hydrogenase","Ferrodoxin","Iron uptake","SUF pathway","Assimilatory sulfate reduction","Potential flavin biosynthesis","NADH-quinone oxidoreductase complex","Unassigned"],"range":["#111111","#3aaee0","#2e3a8f","#177a4c","#27a35e","#8cc43f","#6a2f94","#e2288a","#a2479b","#de2a3d","#ee6a3b","#f5a935","#a0a0a0"]},"legend":null}}},
     {"data":{"values":[{"x":0.1,"p":0.0000119,"t":"p value"}]},"mark":{"type":"text","align":"center","baseline":"middle","fontSize":9.5,"color":"#333"},
      "encoding":{"x":{"field":"x","type":"quantitative","title":"Fold change","axis":{"values":[-5,-4,-3,-2,-1,0,1,2,3,4,5],"labelOverlap":false,"labelSeparation":0,"labelExpr":"replace(format(datum.value, '.2f'), '\u2212', '-')"}},
                  "y":{"field":"p","type":"quantitative","title":null,"axis":{"values":[0.00001,0.0001,0.001,0.01,0.1,1],"labelOverlap":false,"labelExpr":"datum.value >= 1 ? '1.00E+00' : '1.00E-0' + round(-log(datum.value)/LN10)"}},"text":{"field":"t"}}}
    ]},
   {"width":350,"height":520,
    "layer":[
     {"data":{"name":"grayC"},"mark":{"type":"point","shape":"diamond","filled":true,"size":30,"color":"#8c8c8c","opacity":1},
      "encoding":{"x":{"field":"x","type":"quantitative","scale":{"domain":[-5,5],"nice":false,"zero":false},"title":"Fold change","axis":{"values":[-5,-4,-3,-2,-1,0,1,2,3,4,5],"labelOverlap":false,"labelSeparation":0,"labelExpr":"replace(format(datum.value, '.2f'), '\u2212', '-')"}},
                  "y":{"field":"p","type":"quantitative","scale":{"type":"log","domain":[0.00001,1],"reverse":true,"nice":false},"title":null,"axis":{"values":[0.0001,0.001,0.01,0.1,1],"labelOverlap":false,"labelExpr":"datum.value >= 1 ? '1.00E+00' : '1.00E-0' + round(-log(datum.value)/LN10)"}}}},
     {"data":{"values":[{"x":0,"p":0.0001,"p2":1}]},"mark":{"type":"rule","color":"#bdbdbd","strokeWidth":0.8},
      "encoding":{"x":{"field":"x","type":"quantitative","title":"Fold change","axis":{"values":[-5,-4,-3,-2,-1,0,1,2,3,4,5],"labelOverlap":false,"labelSeparation":0,"labelExpr":"replace(format(datum.value, '.2f'), '\u2212', '-')"}},
                  "y":{"field":"p","type":"quantitative","title":null,"axis":{"values":[0.0001,0.001,0.01,0.1,1],"labelOverlap":false,"labelExpr":"datum.value >= 1 ? '1.00E+00' : '1.00E-0' + round(-log(datum.value)/LN10)"}},"y2":{"field":"p2"}}},
     {"data":{"name":"labC"},"mark":{"type":"point","shape":"diamond","filled":true,"size":16,"opacity":1},
      "encoding":{"x":{"field":"x","type":"quantitative","title":"Fold change","axis":{"values":[-5,-4,-3,-2,-1,0,1,2,3,4,5],"labelOverlap":false,"labelSeparation":0,"labelExpr":"replace(format(datum.value, '.2f'), '\u2212', '-')"}},
                  "y":{"field":"p","type":"quantitative","title":null,"axis":{"values":[0.0001,0.001,0.01,0.1,1],"labelOverlap":false,"labelExpr":"datum.value >= 1 ? '1.00E+00' : '1.00E-0' + round(-log(datum.value)/LN10)"}},
       "color":{"field":"c","type":"nominal","scale":{"domain":["Hypothetical proteins","Enhanced growth","Oxygen stress response","Cytochrome BD complex","Oxoglutarate dehydrogenase","Nickel-dependent hydrogenase","Ferrodoxin","Iron uptake","SUF pathway","Assimilatory sulfate reduction","Potential flavin biosynthesis","NADH-quinone oxidoreductase complex","Unassigned"],"range":["#111111","#3aaee0","#2e3a8f","#177a4c","#27a35e","#8cc43f","#6a2f94","#e2288a","#a2479b","#de2a3d","#ee6a3b","#f5a935","#a0a0a0"]},"legend":null}}},
     {"data":{"name":"labC"},"mark":{"type":"text","align":"left","baseline":"middle","fontSize":8.8},
      "encoding":{"x":{"field":"lx","type":"quantitative","title":"Fold change","axis":{"values":[-5,-4,-3,-2,-1,0,1,2,3,4,5],"labelOverlap":false,"labelSeparation":0,"labelExpr":"replace(format(datum.value, '.2f'), '\u2212', '-')"}},
                  "y":{"field":"lp","type":"quantitative","title":null,"axis":{"values":[0.0001,0.001,0.01,0.1,1],"labelOverlap":false,"labelExpr":"datum.value >= 1 ? '1.00E+00' : '1.00E-0' + round(-log(datum.value)/LN10)"}},"text":{"field":"g"},
       "color":{"field":"c","type":"nominal","scale":{"domain":["Hypothetical proteins","Enhanced growth","Oxygen stress response","Cytochrome BD complex","Oxoglutarate dehydrogenase","Nickel-dependent hydrogenase","Ferrodoxin","Iron uptake","SUF pathway","Assimilatory sulfate reduction","Potential flavin biosynthesis","NADH-quinone oxidoreductase complex","Unassigned"],"range":["#111111","#3aaee0","#2e3a8f","#177a4c","#27a35e","#8cc43f","#6a2f94","#e2288a","#a2479b","#de2a3d","#ee6a3b","#f5a935","#a0a0a0"]},"legend":null}}},
     {"data":{"values":[{"x":0,"p":0.000122,"t":"p value"}]},"mark":{"type":"text","align":"center","baseline":"middle","fontSize":9.5,"color":"#333"},
      "encoding":{"x":{"field":"x","type":"quantitative","title":"Fold change","axis":{"values":[-5,-4,-3,-2,-1,0,1,2,3,4,5],"labelOverlap":false,"labelSeparation":0,"labelExpr":"replace(format(datum.value, '.2f'), '\u2212', '-')"}},
                  "y":{"field":"p","type":"quantitative","title":null,"axis":{"values":[0.0001,0.001,0.01,0.1,1],"labelOverlap":false,"labelExpr":"datum.value >= 1 ? '1.00E+00' : '1.00E-0' + round(-log(datum.value)/LN10)"}},"text":{"field":"t"}}}
    ]}
  ],"spacing":32,"bounds":"flush"}
],
"spacing":0,
"bounds":"flush"
}
